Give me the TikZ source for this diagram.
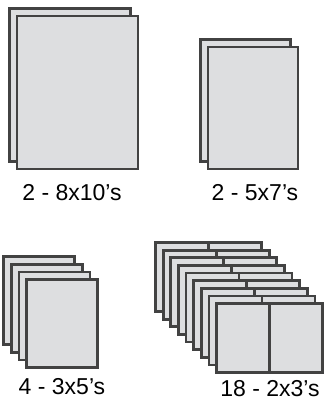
\documentclass[tikz,border=0pt]{standalone}
\usepackage{fontspec}
\setmainfont{Liberation Sans}
\usepackage{xcolor}
\usepackage{tikz}
\definecolor{printgray}{RGB}{221, 222, 224}
\definecolor{edgegray}{RGB}{66, 66, 66}

\begin{document}
\begin{tikzpicture}[x=1pt, y=-1pt, every node/.style={inner sep=0pt, outer sep=0pt},
  print/.style={rectangle,draw=edgegray,fill=printgray,line width=2.8pt,anchor=north west},
  caption/.style={anchor=base,font=\fontsize{23}{27}\selectfont}]
\useasboundingbox (0,0) rectangle (328,402);

% 8x10 prints
\node[print,minimum width=121pt,minimum height=153pt] at (9.5,8.5) (big1) {};
\node[print,minimum width=121pt,minimum height=153pt] at (17,16) (big2) {};
\node[caption] at (72,200) (bigtxt) {2 - 8x10’s};

% 5x7 prints
\node[print,minimum width=90pt,minimum height=122pt] at (200.5,39.5) (mid1) {};
\node[print,minimum width=90pt,minimum height=122pt] at (208,47) (mid2) {};
\node[caption] at (255,200) (midtxt) {2 - 5x7’s};

% 3x5 prints
\node[print,minimum width=71pt,minimum height=88pt] at (3.5,256.5) (small1) {};
\node[print,minimum width=71pt,minimum height=88pt] at (11.2,264.2) (small2) {};
\node[print,minimum width=71pt,minimum height=88pt] at (18.9,271.9) (small3) {};
\node[print,minimum width=71pt,minimum height=88pt] at (26.5,279.5) (small4) {};
\node[caption] at (62,394) (smalltxt) {4 - 3x5’s};

% 2x3 prints, nine pairs
\node[print,minimum width=53pt,minimum height=69pt] at (155.5,242.5) (wl1) {};
\node[print,minimum width=53pt,minimum height=69pt] at (208.5,242.5) (wr1) {};
\node[print,minimum width=53pt,minimum height=69pt] at (163.1,250.1) (wl2) {};
\node[print,minimum width=53pt,minimum height=69pt] at (216.1,250.1) (wr2) {};
\node[print,minimum width=53pt,minimum height=69pt] at (170.8,257.8) (wl3) {};
\node[print,minimum width=53pt,minimum height=69pt] at (223.8,257.8) (wr3) {};
\node[print,minimum width=53pt,minimum height=69pt] at (178.4,265.4) (wl4) {};
\node[print,minimum width=53pt,minimum height=69pt] at (231.4,265.4) (wr4) {};
\node[print,minimum width=53pt,minimum height=69pt] at (186,273) (wl5) {};
\node[print,minimum width=53pt,minimum height=69pt] at (239,273) (wr5) {};
\node[print,minimum width=53pt,minimum height=69pt] at (193.6,280.6) (wl6) {};
\node[print,minimum width=53pt,minimum height=69pt] at (246.6,280.6) (wr6) {};
\node[print,minimum width=53pt,minimum height=69pt] at (201.3,288.3) (wl7) {};
\node[print,minimum width=53pt,minimum height=69pt] at (254.3,288.3) (wr7) {};
\node[print,minimum width=53pt,minimum height=69pt] at (208.9,295.9) (wl8) {};
\node[print,minimum width=53pt,minimum height=69pt] at (261.9,295.9) (wr8) {};
\node[print,minimum width=53pt,minimum height=69pt] at (216.5,303.5) (wl9) {};
\node[print,minimum width=53pt,minimum height=69pt] at (269.5,303.5) (wr9) {};
\node[caption] at (270,396) (walltxt) {18 - 2x3’s};
\end{tikzpicture}
\end{document}
